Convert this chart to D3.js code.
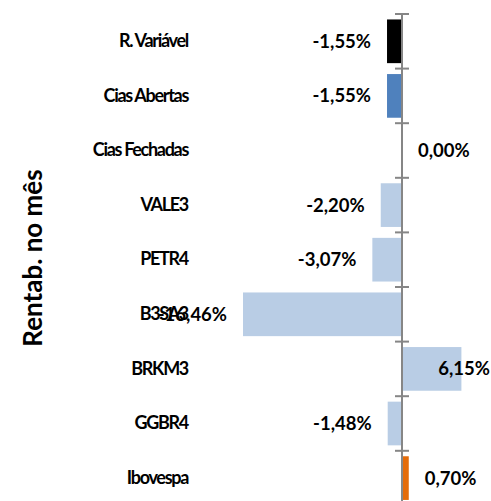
<!DOCTYPE html>
<html>
<head>
<meta charset="utf-8">
<script src="https://cdn.jsdelivr.net/npm/d3@7"></script>
<style>
  body { margin: 0; background: #fff; }
  text { font-family: Lato, "Open Sans", sans-serif; font-weight: bold; fill: #000; }
</style>
</head>
<body>
<div id="chart"></div>
<script>
// Data
const categories = ["R. Variável", "Cias Abertas", "Cias Fechadas", "VALE3", "PETR4", "B3SA3", "BRKM3", "GGBR4", "Ibovespa"];
const values = [-1.55, -1.55, 0.00, -2.20, -3.07, -16.46, 6.15, -1.48, 0.70];
const barColors = ["#000000", "#4F81BD", "#B9CDE5", "#B9CDE5", "#B9CDE5", "#B9CDE5", "#B9CDE5", "#B9CDE5", "#E46C0A"];
const axisTitle = "Rentab. no mês";

const width = 491, height = 501;

const svg = d3.select("#chart").append("svg")
    .attr("width", width)
    .attr("height", height);

// Scales
const x = d3.scaleLinear()
    .domain([-16.46, 0])
    .range([243, 402]);

const y = d3.scaleBand()
    .domain(categories)
    .range([14, 14 + 9 * 54.6])
    .paddingInner(0.2)
    .paddingOuter(0.1);

const data = categories.map((c, i) => ({ name: c, value: values[i], color: barColors[i] }));

// Bars
svg.selectAll("rect.bar")
    .data(data)
    .enter()
    .append("rect")
    .attr("class", "bar")
    .attr("x", d => x(Math.min(0, d.value)))
    .attr("y", d => y(d.name))
    .attr("width", d => Math.abs(x(d.value) - x(0)))
    .attr("height", y.bandwidth())
    .attr("fill", d => d.color);

// Zero axis with separators between categories
const zero = x(0);
svg.append("line")
    .attr("x1", zero).attr("x2", zero)
    .attr("y1", y.range()[0]).attr("y2", y.range()[1])
    .attr("stroke", "#868686")
    .attr("stroke-width", 2);

const step = y.step();
svg.selectAll("line.sep")
    .data(d3.range(categories.length + 1))
    .enter()
    .append("line")
    .attr("class", "sep")
    .attr("x1", zero - 7).attr("x2", zero + 7)
    .attr("y1", i => y.range()[0] + i * step)
    .attr("y2", i => y.range()[0] + i * step)
    .attr("stroke", "#868686")
    .attr("stroke-width", 2);

// Category labels
const yAxis = svg.append("g")
    .attr("transform", "translate(188,0)")
    .call(d3.axisLeft(y).tickSize(0).tickPadding(0));
yAxis.select(".domain").remove();
yAxis.selectAll("text")
    .style("font-family", "Lato, sans-serif")
    .style("font-weight", "bold")
    .style("font-size", "18px")
    .style("letter-spacing", "-1.3px")
    .attr("fill", "#000");

// Value labels
const fmt = v => v.toFixed(2).replace(".", ",") + "%";
svg.selectAll("text.val")
    .data(data)
    .enter()
    .append("text")
    .attr("class", "val")
    .attr("y", d => y(d.name) + y.bandwidth() / 2)
    .attr("dy", "0.35em")
    .style("font-size", "18.5px")
    .text(d => fmt(d.value))
    .each(function(d) {
        const t = d3.select(this);
        if (d.value < 0) {
            t.attr("x", x(d.value) - 16).attr("text-anchor", "end");
        } else {
            const w = this.getComputedTextLength();
            let px = x(d.value) + 16;
            if (px + w > width - 1) px = width - 1 - w;
            t.attr("x", px).attr("text-anchor", "start");
        }
    });

// Axis title
svg.append("text")
    .attr("transform", "translate(42,258) rotate(-90)")
    .attr("text-anchor", "middle")
    .style("font-size", "26px")
    .text(axisTitle);
</script>
</body>
</html>
